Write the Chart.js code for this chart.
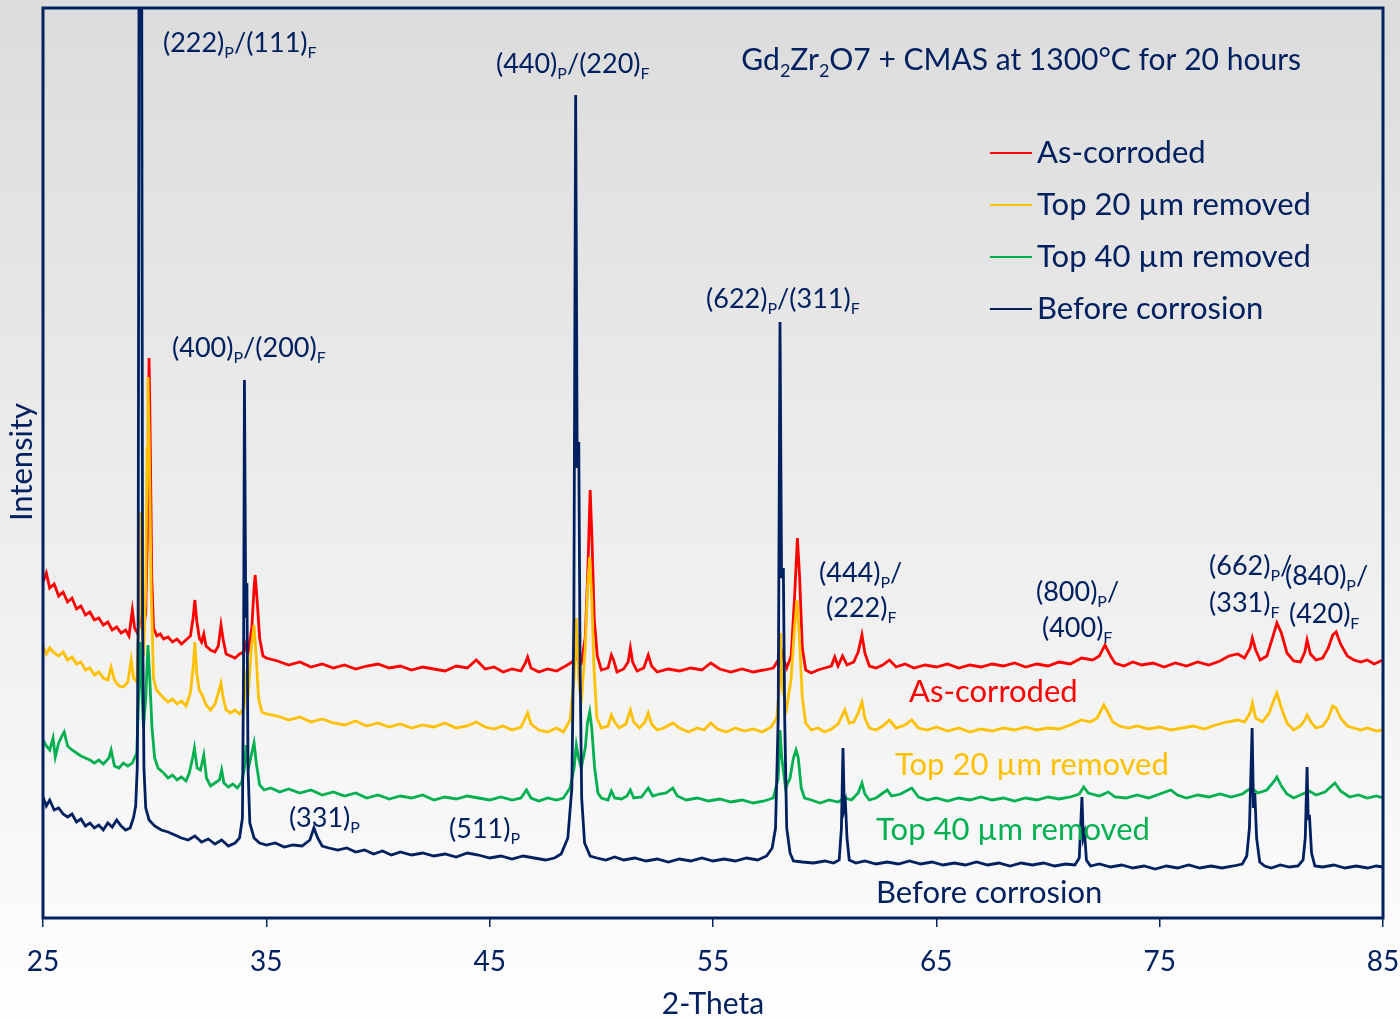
<!DOCTYPE html>
<html>
<head>
<meta charset="utf-8">
<title>Gd2Zr2O7 + CMAS XRD</title>
<script src="https://cdn.jsdelivr.net/npm/chart.js@4.4.1/dist/chart.umd.min.js"></script>
<style>
  html, body { margin: 0; padding: 0; background: #fff; }
  #xrd { display: block; }
</style>
</head>
<body>
<canvas id="xrd" width="1400" height="1019"></canvas>
<script>
// 2-Theta (deg) / intensity (a.u., curves already offset)
const asCorroded = [
  [25.0,336],[25.15,345],[25.3,330],[25.5,334],[25.7,322],[25.9,326],[26.1,316],[26.3,320],[26.5,309],[26.7,312],
  [26.9,303],[27.1,306],[27.3,298],[27.5,300],[27.7,293],[27.9,296],[28.1,288],[28.3,291],[28.5,285],[28.7,288],
  [28.85,282],[29.0,308],[29.1,290],[29.2,286],[29.3,290],[29.44,318],[29.52,292],[29.6,305],[29.67,380],[29.72,490],
  [29.75,560],[29.8,480],[29.87,340],[29.95,290],[30.1,282],[30.25,284],[30.4,279],[30.6,281],[30.8,276],[31.0,279],
  [31.2,274],[31.4,278],[31.6,282],[31.72,300],[31.8,318],[31.88,298],[32.0,280],[32.1,276],[32.2,284],[32.3,272],
  [32.5,268],[32.7,266],[32.85,272],[32.97,293],[33.07,278],[33.2,264],[33.4,262],[33.6,260],[33.8,264],[34.0,266],
  [34.1,275],[34.2,268],[34.35,290],[34.45,330],[34.5,343],[34.58,320],[34.7,280],[34.85,262],[35.0,260],[35.5,257],
  [36.0,253],[36.5,256],[37.0,251],[37.5,254],[38.0,250],[38.5,253],[39.0,249],[39.5,252],[40.0,254],[40.5,250],
  [41.0,252],[41.5,248],[42.0,251],[42.5,249],[43.0,247],[43.5,252],[44.0,250],[44.4,258],[44.8,249],[45.2,251],
  [45.6,246],[46.0,249],[46.4,247],[46.6,255],[46.7,261],[46.85,250],[47.2,246],[47.6,249],[48.0,247],[48.4,252],
  [48.7,256],[48.85,262],[48.95,258],[49.1,255],[49.28,280],[49.4,350],[49.5,428],[49.58,380],[49.68,300],[49.82,262],
  [50.0,248],[50.3,250],[50.45,263],[50.55,258],[50.7,246],[51.0,249],[51.2,256],[51.3,270],[51.4,256],[51.6,247],
  [51.9,250],[52.1,263],[52.25,252],[52.5,246],[53.0,249],[53.5,247],[54.0,250],[54.5,248],[54.9,255],[55.3,249],
  [55.8,246],[56.3,249],[56.8,246],[57.3,248],[57.7,250],[57.92,258],[58.0,275],[58.1,262],[58.3,250],[58.5,262],
  [58.65,320],[58.78,380],[58.88,340],[59.0,270],[59.15,248],[59.4,245],[59.7,248],[60.0,250],[60.3,252],[60.45,261],
  [60.6,252],[60.8,262],[61.0,253],[61.3,256],[61.5,266],[61.67,283],[61.8,265],[62.0,252],[62.3,250],[62.6,253],
  [62.9,258],[63.2,251],[63.6,254],[64.0,250],[64.5,253],[65.0,251],[65.5,254],[66.0,250],[66.5,253],[67.0,251],
  [67.5,254],[68.0,252],[68.5,255],[69.0,251],[69.5,254],[70.0,252],[70.5,256],[71.0,254],[71.5,260],[72.0,258],
  [72.3,262],[72.55,273],[72.8,262],[73.0,255],[73.4,252],[73.8,256],[74.2,253],[74.7,255],[75.2,251],[75.7,255],
  [76.2,252],[76.7,256],[77.2,253],[77.7,257],[78.1,262],[78.5,264],[78.8,260],[79.05,270],[79.15,280],[79.3,268],
  [79.5,258],[79.8,262],[80.05,280],[80.25,295],[80.45,285],[80.7,265],[81.0,257],[81.3,256],[81.5,266],[81.6,278],
  [81.75,264],[82.0,258],[82.3,260],[82.55,270],[82.75,283],[82.9,286],[83.1,274],[83.4,262],[83.7,258],[84.0,256],
  [84.3,258],[84.6,254],[85.0,258]
];

const top20Removed = [
  [25.0,272],[25.15,264],[25.3,270],[25.5,265],[25.7,262],[25.9,266],[26.1,258],[26.3,261],[26.5,254],[26.7,256],
  [26.9,248],[27.1,250],[27.3,243],[27.5,246],[27.7,240],[27.9,238],[28.05,251],[28.2,238],[28.4,232],[28.6,231],
  [28.8,236],[28.95,258],[29.05,240],[29.2,236],[29.28,290],[29.34,406],[29.42,300],[29.5,262],[29.6,330],[29.66,470],
  [29.7,541],[29.76,470],[29.84,330],[29.95,240],[30.08,228],[30.2,225],[30.4,220],[30.6,216],[30.8,219],[31.0,214],
  [31.2,217],[31.4,212],[31.6,225],[31.72,250],[31.8,276],[31.88,245],[32.0,228],[32.15,222],[32.3,213],[32.5,208],
  [32.7,214],[32.85,225],[32.97,235],[33.07,220],[33.2,208],[33.4,205],[33.6,208],[33.8,204],[34.0,210],[34.1,240],
  [34.2,228],[34.33,270],[34.45,293],[34.55,260],[34.65,220],[34.8,206],[35.0,204],[35.5,202],[36.0,198],[36.5,201],
  [37.0,196],[37.5,199],[38.0,195],[38.5,193],[39.0,197],[39.5,192],[40.0,195],[40.5,191],[41.0,194],[41.5,190],
  [42.0,193],[42.5,191],[43.0,195],[43.5,190],[44.0,192],[44.4,196],[44.8,191],[45.2,189],[45.6,192],[46.0,188],
  [46.4,191],[46.6,200],[46.7,205],[46.85,194],[47.2,188],[47.6,186],[48.0,190],[48.3,186],[48.6,198],[48.78,240],
  [48.88,300],[48.98,240],[49.1,215],[49.28,270],[49.38,330],[49.48,361],[49.57,320],[49.67,250],[49.8,200],[50.0,190],
  [50.3,192],[50.45,203],[50.6,196],[50.8,190],[51.1,194],[51.3,208],[51.45,196],[51.7,190],[51.95,196],[52.1,205],
  [52.25,194],[52.5,188],[52.8,190],[53.2,195],[53.5,190],[53.9,186],[54.3,190],[54.6,188],[54.9,195],[55.2,189],
  [55.6,186],[56.0,190],[56.4,187],[56.8,189],[57.2,186],[57.6,191],[57.85,200],[57.95,225],[58.02,285],[58.1,230],
  [58.3,210],[58.5,240],[58.65,290],[58.76,318],[58.87,280],[59.0,220],[59.15,195],[59.4,188],[59.7,190],[60.0,186],
  [60.3,189],[60.6,194],[60.9,208],[61.1,195],[61.3,196],[61.5,205],[61.67,216],[61.8,200],[62.0,190],[62.3,188],
  [62.6,192],[62.9,198],[63.2,190],[63.6,193],[63.9,198],[64.2,190],[64.6,188],[65.0,191],[65.5,187],[66.0,190],
  [66.5,186],[67.0,189],[67.5,187],[68.0,190],[68.5,188],[69.0,191],[69.5,188],[70.0,190],[70.5,189],[71.0,193],
  [71.5,198],[71.9,196],[72.2,200],[72.5,213],[72.7,205],[72.9,196],[73.2,192],[73.6,190],[74.0,192],[74.5,189],
  [75.0,191],[75.5,188],[76.0,190],[76.5,192],[77.0,189],[77.5,193],[78.0,196],[78.5,198],[78.8,196],[79.05,205],
  [79.15,215],[79.3,200],[79.6,196],[79.9,205],[80.15,220],[80.25,225],[80.45,210],[80.7,195],[81.0,188],[81.3,192],
  [81.5,198],[81.6,203],[81.8,195],[82.0,190],[82.3,192],[82.55,200],[82.75,212],[82.9,210],[83.1,200],[83.4,192],
  [83.7,190],[84.0,188],[84.3,190],[84.7,187],[85.0,188]
];

const top40Removed = [
  [25.0,178],[25.15,172],[25.3,168],[25.45,180],[25.55,161],[25.7,175],[25.85,182],[25.95,186],[26.1,172],[26.3,168],
  [26.5,165],[26.7,162],[26.9,160],[27.1,158],[27.3,155],[27.5,158],[27.7,154],[27.95,160],[28.05,168],[28.2,152],
  [28.4,150],[28.6,155],[28.8,152],[29.0,155],[29.2,165],[29.28,220],[29.34,276],[29.42,230],[29.5,190],[29.6,220],
  [29.7,273],[29.78,240],[29.88,190],[30.0,160],[30.15,150],[30.4,145],[30.6,140],[30.8,143],[31.0,138],[31.2,141],
  [31.4,137],[31.55,145],[31.7,160],[31.78,170],[31.9,150],[32.05,148],[32.2,163],[32.32,140],[32.5,132],[32.7,135],
  [32.9,138],[33.0,148],[33.1,135],[33.3,131],[33.5,134],[33.7,130],[33.9,136],[34.02,150],[34.1,173],[34.2,150],
  [34.3,160],[34.45,175],[34.55,155],[34.7,133],[34.9,128],[35.2,130],[35.6,126],[36.0,129],[36.5,125],[37.0,128],
  [37.5,123],[38.0,126],[38.5,122],[39.0,125],[39.5,120],[40.0,123],[40.5,119],[41.0,122],[41.5,120],[42.0,123],
  [42.5,118],[43.0,121],[43.5,119],[44.0,122],[44.5,120],[45.0,118],[45.5,121],[46.0,118],[46.4,120],[46.65,128],
  [46.85,120],[47.2,117],[47.6,120],[48.0,118],[48.3,120],[48.6,130],[48.78,150],[48.88,173],[48.98,160],[49.1,150],
  [49.28,170],[49.38,195],[49.48,206],[49.57,190],[49.7,150],[49.85,125],[50.0,120],[50.3,118],[50.45,127],[50.6,120],
  [50.9,119],[51.15,122],[51.3,128],[51.45,120],[51.8,121],[52.1,130],[52.3,122],[52.6,124],[52.9,125],[53.2,130],
  [53.4,122],[53.8,118],[54.3,120],[54.8,117],[55.3,119],[55.8,116],[56.3,118],[56.8,115],[57.3,117],[57.7,120],
  [57.92,140],[58.0,188],[58.08,160],[58.25,130],[58.45,140],[58.6,160],[58.72,168],[58.82,160],[58.95,130],[59.1,120],
  [59.4,118],[59.8,115],[60.2,118],[60.6,116],[60.9,120],[61.2,118],[61.5,125],[61.67,135],[61.8,124],[62.0,118],
  [62.3,120],[62.8,128],[63.0,122],[63.4,124],[63.9,130],[64.2,121],[64.6,118],[65.0,120],[65.5,117],[66.0,120],
  [66.5,118],[67.0,121],[67.5,118],[68.0,120],[68.5,117],[69.0,120],[69.5,118],[70.0,121],[70.5,119],[71.0,121],
  [71.4,124],[71.6,131],[71.8,125],[72.3,122],[72.7,126],[73.0,121],[73.5,120],[74.0,123],[74.5,120],[75.0,124],
  [75.5,128],[75.8,123],[76.2,120],[76.7,123],[77.2,121],[77.7,124],[78.2,121],[78.7,124],[79.1,130],[79.4,125],
  [79.8,128],[80.1,136],[80.25,141],[80.45,132],[80.7,124],[81.0,120],[81.4,124],[81.7,127],[82.0,123],[82.4,126],
  [82.7,132],[82.85,135],[83.1,127],[83.5,121],[83.9,123],[84.3,120],[84.7,122],[85.0,120]
];

const beforeCorrosion = [
  [25.0,121],[25.15,112],[25.3,118],[25.5,108],[25.7,110],[25.9,104],[26.1,101],[26.3,104],[26.5,96],[26.7,99],
  [26.9,92],[27.1,95],[27.3,90],[27.5,93],[27.7,88],[27.9,95],[28.1,91],[28.3,98],[28.5,92],[28.7,88],
  [28.9,90],[29.05,100],[29.15,112],[29.22,150],[29.26,300],[29.3,940],[29.42,940],[29.46,300],[29.52,150],[29.6,110],
  [29.75,98],[30.0,92],[30.3,88],[30.6,86],[30.9,83],[31.2,80],[31.5,78],[31.8,82],[32.1,76],[32.4,79],
  [32.7,74],[33.0,78],[33.3,72],[33.6,75],[33.8,80],[33.93,100],[33.98,250],[34.02,538],[34.08,300],[34.13,335],
  [34.18,150],[34.26,95],[34.45,80],[34.7,75],[35.0,73],[35.4,75],[35.8,71],[36.2,73],[36.6,72],[36.95,78],
  [37.13,90],[37.3,80],[37.5,72],[37.8,70],[38.2,68],[38.6,70],[39.0,66],[39.4,68],[39.8,64],[40.2,67],
  [40.6,63],[41.0,66],[41.5,63],[42.0,65],[42.5,62],[43.0,64],[43.5,61],[44.0,65],[44.5,63],[45.0,60],
  [45.5,62],[46.0,59],[46.5,62],[47.0,60],[47.5,58],[47.9,60],[48.2,64],[48.5,80],[48.68,130],[48.77,300],
  [48.85,823],[48.92,450],[48.99,476],[49.05,250],[49.12,120],[49.25,75],[49.5,62],[49.8,60],[50.2,58],[50.6,61],
  [51.0,58],[51.5,60],[52.0,57],[52.5,59],[53.0,56],[53.5,59],[54.0,57],[54.5,60],[55.0,57],[55.5,59],
  [56.0,57],[56.5,60],[57.0,58],[57.4,62],[57.65,70],[57.8,90],[57.92,200],[58.0,596],[58.07,340],[58.15,350],
  [58.21,200],[58.3,90],[58.45,65],[58.6,57],[59.0,56],[59.5,55],[60.0,57],[60.4,55],[60.65,58],[60.75,90],
  [60.82,170],[60.88,110],[60.93,115],[61.0,80],[61.1,58],[61.4,55],[61.8,57],[62.3,54],[62.8,56],[63.3,54],
  [63.8,57],[64.3,54],[64.8,56],[65.3,53],[65.8,55],[66.3,53],[66.8,56],[67.3,53],[67.8,55],[68.3,52],
  [68.8,55],[69.3,53],[69.8,55],[70.3,52],[70.8,54],[71.2,53],[71.4,60],[71.52,121],[71.58,80],[71.64,85],
  [71.72,58],[71.9,52],[72.3,54],[72.8,51],[73.3,53],[73.8,50],[74.3,52],[74.8,49],[75.3,52],[75.8,50],
  [76.3,53],[76.8,50],[77.3,52],[77.8,50],[78.3,52],[78.7,54],[78.9,62],[79.02,90],[79.14,190],[79.2,110],
  [79.26,125],[79.34,80],[79.48,56],[79.7,52],[80.0,50],[80.4,53],[80.8,51],[81.2,52],[81.42,58],[81.52,80],
  [81.6,151],[81.65,100],[81.71,101],[81.8,65],[81.95,52],[82.3,51],[82.8,53],[83.3,50],[83.8,52],[84.3,50],
  [84.7,52],[85.0,51]
];

const seriesNames = ['As-corroded', 'Top 20 µm removed', 'Top 40 µm removed', 'Before corrosion'];
const seriesColors = ['#ff0000', '#ffc000', '#00b050', '#002060'];
const xTicks = [25, 35, 45, 55, 65, 75, 85];

// hkl labels; "_X" renders X as a subscript. Placed in data units (left edge, baseline).
const peakLabels = [
  { text: '(222)_P/(111)_F', x: 30.37, y: 866 },
  { text: '(400)_P/(200)_F', x: 30.78, y: 561 },
  { text: '(440)_P/(220)_F', x: 45.28, y: 845 },
  { text: '(622)_P/(311)_F', x: 54.69, y: 610 },
  { text: '(444)_P/', x: 59.75, y: 336 },
  { text: '(222)_F', x: 60.06, y: 301 },
  { text: '(800)_P/', x: 69.46, y: 317 },
  { text: '(400)_F', x: 69.73, y: 281 },
  { text: '(662)_P/', x: 77.21, y: 343 },
  { text: '(331)_F', x: 77.21, y: 306 },
  { text: '(840)_P/', x: 80.61, y: 333 },
  { text: '(420)_F', x: 80.79, y: 295 },
  { text: '(331)_P', x: 36.01, y: 91 },
  { text: '(511)_P', x: 43.18, y: 80 }
];
const curveLabels = [
  { x: 63.78, y: 216 },
  { x: 63.15, y: 143 },
  { x: 62.30, y: 78 },
  { x: 62.30, y: 15 }
];

const navy = '#002060';
const family = "Lato, 'Open Sans', sans-serif";

function drawRich(ctx, text, x, y, size, color) {
  const parts = text.split(/(_.)/).filter(s => s.length);
  let cx = x;
  ctx.fillStyle = color;
  ctx.textAlign = 'left';
  ctx.textBaseline = 'alphabetic';
  parts.forEach(p => {
    if (p[0] === '_') {
      ctx.font = Math.round(size * 0.6) + 'px ' + family;
      ctx.fillText(p[1], cx, y + size * 0.22);
      cx += ctx.measureText(p[1]).width;
    } else {
      ctx.font = size + 'px ' + family;
      ctx.fillText(p, cx, y);
      cx += ctx.measureText(p).width;
    }
  });
}

const decorPlugin = {
  id: 'decor',
  beforeDraw(chart) {
    const { ctx, width, height } = chart;
    const g = ctx.createLinearGradient(0, 0, 0, height);
    g.addColorStop(0, '#dcdcdc');
    g.addColorStop(1, '#fefefe');
    ctx.save();
    ctx.fillStyle = g;
    ctx.fillRect(0, 0, width, height);
    ctx.restore();
  },
  afterDatasetsDraw(chart) {
    const { ctx, chartArea: a, scales: { x, y } } = chart;
    ctx.save();

    // frame
    ctx.strokeStyle = navy;
    ctx.lineWidth = 3;
    ctx.strokeRect(a.left, a.top, a.right - a.left, a.bottom - a.top);

    // y title
    ctx.save();
    ctx.translate(22, 462);
    ctx.rotate(-Math.PI / 2);
    ctx.font = '31px ' + family;
    ctx.fillStyle = navy;
    ctx.textAlign = 'center';
    ctx.textBaseline = 'middle';
    ctx.fillText('Intensity', 0, 0);
    ctx.restore();

    drawRich(ctx, 'Gd_2Zr_2O7 + CMAS at 1300°C for 20 hours', x.getPixelForValue(56.27), y.getPixelForValue(848), 30, navy);

    peakLabels.forEach(l => {
      drawRich(ctx, l.text, x.getPixelForValue(l.x), y.getPixelForValue(l.y), 27, navy);
    });

    // legend
    chart.data.datasets.forEach((ds, i) => {
      const ly = y.getPixelForValue(765 - i * 52);
      ctx.strokeStyle = ds.borderColor;
      ctx.lineWidth = 2;
      ctx.beginPath();
      ctx.moveTo(x.getPixelForValue(67.40), ly);
      ctx.lineTo(x.getPixelForValue(69.28), ly);
      ctx.stroke();
      drawRich(ctx, ds.label, x.getPixelForValue(69.51), ly + 10, 31, navy);
    });

    // curve names beside the traces
    chart.data.datasets.forEach((ds, i) => {
      const c = curveLabels[i];
      drawRich(ctx, ds.label, x.getPixelForValue(c.x), y.getPixelForValue(c.y), 31, ds.borderColor);
    });
    ctx.restore();
  }
};

const allSeries = [asCorroded, top20Removed, top40Removed, beforeCorrosion];
const datasets = allSeries.map((s, i) => ({
  label: seriesNames[i],
  data: s.map(p => ({ x: p[0], y: p[1] })),
  borderColor: seriesColors[i],
  borderWidth: 2.8,
  pointRadius: 0,
  tension: 0,
  order: 4 - i
}));

new Chart(document.getElementById('xrd'), {
  type: 'line',
  data: { datasets },
  options: {
    responsive: false,
    animation: false,
    layout: { padding: { left: 43, right: 17, top: 8, bottom: 0 } },
    plugins: { legend: { display: false }, tooltip: { enabled: false } },
    scales: {
      x: {
        type: 'linear',
        min: 25,
        max: 85,
        afterBuildTicks: s => { s.ticks = xTicks.map(v => ({ value: v })); },
        afterFit: s => {
          s.height = 101;
          // end labels may hang into the page margins
          s.paddingLeft = 0;
          s.paddingRight = 0;
        },
        ticks: { color: navy, font: { family, size: 28 }, padding: 18, maxRotation: 0 },
        grid: { drawOnChartArea: false, tickLength: 9, color: navy, lineWidth: 1.5 },
        border: { display: false },
        title: { display: true, text: '2-Theta', color: navy, font: { family, size: 30, lineHeight: 1 }, padding: 0 }
      },
      y: { display: false, min: 0, max: 910 }
    }
  },
  plugins: [decorPlugin]
});
</script>
</body>
</html>
